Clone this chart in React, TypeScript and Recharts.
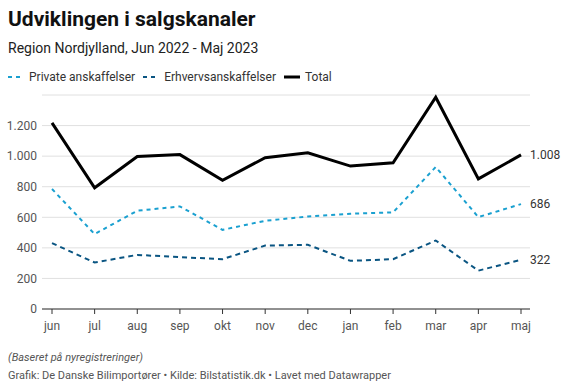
import { LineChart, Line, XAxis, YAxis, CartesianGrid, LabelList } from "recharts";

const months = ["jun", "jul", "aug", "sep", "okt", "nov", "dec", "jan", "feb", "mar", "apr", "maj"];
const privateSales = [785, 490, 643, 671, 518, 577, 605, 623, 632, 929, 601, 686];
const businessSales = [431, 304, 354, 339, 326, 415, 420, 315, 326, 448, 251, 322];
const totalSales = [1218, 793, 997, 1010, 842, 990, 1022, 935, 957, 1385, 851, 1008];
const yTicks = [0, 200, 400, 600, 800, 1000, 1200];

const data = months.map((m, i) => ({
  month: m,
  private: privateSales[i],
  business: businessSales[i],
  total: totalSales[i],
}));

const fmt = (v: number) => v.toLocaleString("da-DK");

const endLabel = (props: any) => {
  const { x, y, value, index } = props;
  if (index !== months.length - 1) return null;
  return (
    <text x={x + 9} y={y} dy={4} fontSize={12} fill="#333" fontFamily="Roboto">
      {fmt(value)}
    </text>
  );
};

function LegendItem({ color, dashed, label }: { color: string; dashed: boolean; label: string }) {
  return (
    <span style={{ display: "inline-flex", alignItems: "center", marginRight: 8 }}>
      <svg width={16} height={4} style={{ marginRight: 5 }}>
        <line
          x1={0}
          y1={2}
          x2={16}
          y2={2}
          stroke={color}
          strokeWidth={dashed ? 2 : 3}
          strokeDasharray={dashed ? "4 4" : undefined}
        />
      </svg>
      {label}
    </span>
  );
}

export default function App() {
  return (
    <div style={{ position: "relative", width: 576, height: 390, fontFamily: "Roboto", background: "#fff" }}>
      <style>{"body{margin:0}"}</style>
      <div style={{ position: "absolute", left: 8, top: 7, fontSize: 21, fontWeight: 700, color: "#111" }}>
        Udviklingen i salgskanaler
      </div>
      <div style={{ position: "absolute", left: 8, top: 40, fontSize: 14, color: "#222" }}>
        Region Nordjylland, Jun 2022 - Maj 2023
      </div>
      <div style={{ position: "absolute", left: 8, top: 70, fontSize: 12, color: "#333", display: "flex" }}>
        <LegendItem color="#1aa0d0" dashed label="Private anskaffelser" />
        <LegendItem color="#0a5582" dashed label="Erhvervsanskaffelser" />
        <LegendItem color="#000" dashed={false} label="Total" />
      </div>
      <div style={{ position: "absolute", left: 0, top: 0 }}>
        <LineChart width={576} height={390} data={data} margin={{ top: 95, right: 46, left: 0, bottom: 51 }}>
          <CartesianGrid vertical={false} stroke="#e0e0e0" />
          <XAxis
            dataKey="month"
            padding={{ left: 10, right: 9 }}
            axisLine={{ stroke: "#333" }}
            tickLine={{ stroke: "#333" }}
            tickSize={5}
            tickMargin={7}
            tick={{ fontSize: 12, fill: "#555" }}
            height={30}
            interval={0}
          />
          <YAxis
            width={42}
            domain={[0, 1400]}
            ticks={yTicks}
            axisLine={false}
            tickLine={false}
            tickSize={0}
            tickMargin={5}
            tick={{ fontSize: 12, fill: "#555" }}
            tickFormatter={fmt}
          />
          <Line
            dataKey="private"
            stroke="#1aa0d0"
            strokeWidth={2}
            strokeDasharray="4 4"
            dot={false}
            isAnimationActive={false}
          >
            <LabelList dataKey="private" content={endLabel} />
          </Line>
          <Line
            dataKey="business"
            stroke="#0a5582"
            strokeWidth={2}
            strokeDasharray="5 4"
            dot={false}
            isAnimationActive={false}
          >
            <LabelList dataKey="business" content={endLabel} />
          </Line>
          <Line dataKey="total" stroke="#000" strokeWidth={3} dot={false} isAnimationActive={false}>
            <LabelList dataKey="total" content={endLabel} />
          </Line>
        </LineChart>
      </div>
      <div style={{ position: "absolute", left: 8, top: 351, fontSize: 11, fontStyle: "italic", color: "#555" }}>
        (Baseret på nyregistreringer)
      </div>
      <div style={{ position: "absolute", left: 8, top: 369, fontSize: 11, color: "#555" }}>
        Grafik: De Danske Bilimportører • Kilde: Bilstatistik.dk • Lavet med Datawrapper
      </div>
    </div>
  );
}
